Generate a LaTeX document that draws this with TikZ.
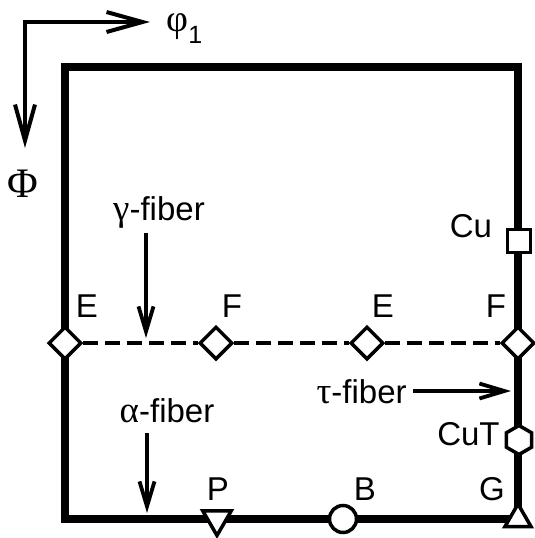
\documentclass[tikz,border=0pt]{standalone}
\usepackage{fontspec}
\setmainfont{Liberation Sans}
\newfontfamily\greekfont{Liberation Serif}
\usetikzlibrary{arrows.meta, shapes.geometric}

\tikzset{
    lbl/.style={font=\fontsize{16.5}{18}\selectfont, anchor=base, inner sep=0pt},
    grk/.style={font=\fontsize{18.5}{20}\selectfont\greekfont},
    fib/.style={line width=1.9pt, -{Straight Barb[length=12.5pt, width=7.5pt]}},
    pole/.style={draw, fill=white, line width=1.75pt, inner sep=0pt},
}

\begin{document}
\begin{tikzpicture}[x=0.5pt, y=-0.5pt]
    \useasboundingbox (0,0) rectangle (535,538);

    % Axes
    \coordinate (X) at (150,22);
    \coordinate (O) at (25,22);
    \coordinate (Y) at (25,148);
    \draw[line width=2pt, {Straight Barb[length=18pt, width=10pt]}-{Straight Barb[length=18pt, width=10pt]}] (X) -- (O) -- (Y);
    \node[lbl, anchor=base west] (phi1) at (166,31) {{\fontsize{19}{20}\selectfont\greekfont φ}\raisebox{-6pt}{\fontsize{12.5}{13}\selectfont 1}};
    \node[lbl, font=\fontsize{21}{22}\selectfont\greekfont] (Phi) at (23,197) {Φ};

    % Frame
    \draw[line width=3.75pt] (65,67) rectangle (518,519);

    % Gamma fiber: E F E F
    \node[pole, diamond, minimum size=16.5pt] (dE1) at (65,343) {};
    \node[pole, diamond, minimum size=16.5pt] (dF1) at (216,343) {};
    \node[pole, diamond, minimum size=16.5pt] (dE2) at (367,343) {};
    \node[pole, diamond, minimum size=16.5pt] (dF2) at (518,343) {};
    \draw[line width=1.9pt, dash pattern=on 7.5pt off 3.5pt] (dE1) -- (dF1) -- (dE2) -- (dF2);
    \node[lbl] (lE1) at (87,317) {E};
    \node[lbl] (lF1) at (232,317) {F};
    \node[lbl] (lE2) at (383,317) {E};
    \node[lbl] (lF2) at (496,317) {F};

    \node[lbl] (gam) at (159,220) {{\fontsize{18.5}{20}\selectfont\greekfont γ}-fiber};
    \coordinate (gTop) at (146,233);
    \coordinate (gTip) at (146,338);
    \draw[fib] (gTop) -- (gTip);

    % Tau fiber: Cu, CuT, G
    \node[pole, rectangle, minimum size=11.5pt] (sCu) at (519,241) {};
    \node[lbl] (lCu) at (471,237) {Cu};
    \node[pole, regular polygon, regular polygon sides=6, shape border rotate=30, minimum size=14.5pt] (hCuT) at (519,440) {};
    \node[lbl, anchor=base east] (lCuT) at (500,445) {CuT};

    \node[lbl, anchor=base east] (tau) at (407,403) {{\fontsize{18.5}{20}\selectfont\greekfont τ}-fiber};
    \coordinate (tTail) at (413,391);
    \coordinate (tTip) at (511,391);
    \draw[fib] (tTail) -- (tTip);

    % Alpha fiber: P, B, G
    \node[pole, regular polygon, regular polygon sides=3, shape border rotate=180, minimum size=16.5pt] (tP) at (217,519) {};
    \node[pole, circle, minimum size=13.5pt] (cB) at (343,519) {};
    \node[pole, regular polygon, regular polygon sides=3, minimum size=15pt] (tG) at (518,519) {};
    \node[lbl] (lP) at (218,500) {P};
    \node[lbl] (lB) at (365,500) {B};
    \node[lbl] (lG) at (492,500) {G};

    \node[lbl] (alp) at (167,422) {{\fontsize{18.5}{20}\selectfont\greekfont α}-fiber};
    \coordinate (aTop) at (147,433);
    \coordinate (aTip) at (147,513);
    \draw[fib] (aTop) -- (aTip);
\end{tikzpicture}
\end{document}
